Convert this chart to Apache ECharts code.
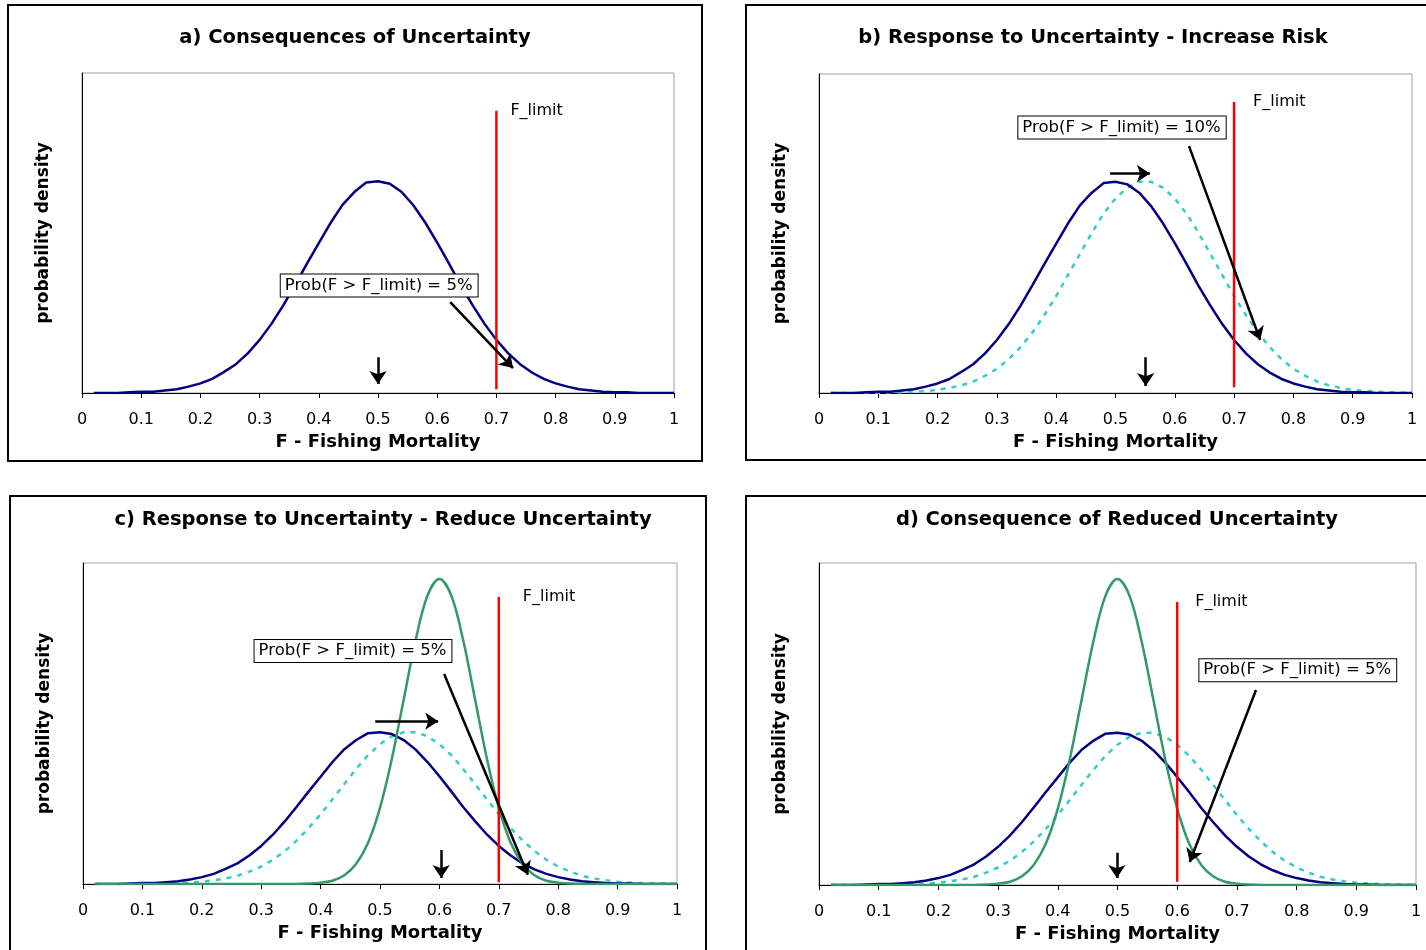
<!DOCTYPE html>
<html>
<head>
<meta charset="utf-8">
<script src="https://cdn.jsdelivr.net/npm/echarts@6/dist/echarts.min.js"></script>
<style>
  html, body { margin: 0; padding: 0; background: #fff; }
  #chart { width: 1426px; height: 950px; }
</style>
</head>
<body>
<div id="chart"></div>
<script>
// F values the densities are read at
const fValues = [0.02, 0.04, 0.06, 0.08, 0.10, 0.12, 0.14, 0.16, 0.18, 0.20,
  0.22, 0.24, 0.26, 0.28, 0.30, 0.32, 0.34, 0.36, 0.38, 0.40,
  0.42, 0.44, 0.46, 0.48, 0.50, 0.52, 0.54, 0.56, 0.58, 0.60,
  0.62, 0.64, 0.66, 0.68, 0.70, 0.72, 0.74, 0.76, 0.78, 0.80,
  0.82, 0.84, 0.86, 0.88, 0.90, 0.92, 0.94, 0.96, 0.98, 1.00]

// current uncertainty (solid navy)
const blueDensity = [0.00, 0.00, 0.00, 0.01, 0.02, 0.02, 0.04, 0.06, 0.10, 0.15,
  0.22, 0.33, 0.45, 0.62, 0.83, 1.08, 1.37, 1.69, 2.02, 2.34,
  2.66, 2.94, 3.14, 3.29, 3.31, 3.27, 3.14, 2.93, 2.66, 2.35,
  2.02, 1.68, 1.37, 1.08, 0.83, 0.62, 0.45, 0.32, 0.22, 0.15,
  0.10, 0.06, 0.04, 0.02, 0.01, 0.01, 0.00, 0.00, 0.00, 0.00]

// shifted distribution (dashed turquoise)
const cyanDensity = [0.00, 0.00, 0.00, 0.00, 0.00, 0.01, 0.01, 0.02, 0.03, 0.05,
  0.08, 0.12, 0.18, 0.27, 0.38, 0.53, 0.72, 0.95, 1.22, 1.52,
  1.85, 2.18, 2.51, 2.81, 3.05, 3.22, 3.31, 3.31, 3.22, 3.05,
  2.81, 2.51, 2.18, 1.85, 1.52, 1.22, 0.95, 0.72, 0.53, 0.38,
  0.27, 0.18, 0.12, 0.08, 0.05, 0.03, 0.02, 0.01, 0.01, 0.00]

// reduced uncertainty, panel c (green)
const greenDensityC = [0.00, 0.00, 0.00, 0.00, 0.00, 0.00, 0.00, 0.00, 0.00, 0.00,
  0.00, 0.00, 0.00, 0.00, 0.00, 0.00, 0.00, 0.00, 0.01, 0.03,
  0.07, 0.19, 0.44, 0.90, 1.66, 2.73, 4.03, 5.32, 6.29, 6.65,
  6.29, 5.32, 4.03, 2.73, 1.66, 0.90, 0.44, 0.19, 0.07, 0.03,
  0.01, 0.00, 0.00, 0.00, 0.00, 0.00, 0.00, 0.00, 0.00, 0.00]

// reduced uncertainty, panel d (green)
const greenDensityD = [0.00, 0.00, 0.00, 0.00, 0.00, 0.00, 0.00, 0.00, 0.00, 0.00,
  0.00, 0.00, 0.00, 0.01, 0.03, 0.07, 0.19, 0.44, 0.90, 1.66,
  2.73, 4.03, 5.32, 6.29, 6.65, 6.29, 5.32, 4.03, 2.73, 1.66,
  0.90, 0.44, 0.19, 0.07, 0.03, 0.01, 0.00, 0.00, 0.00, 0.00,
  0.00, 0.00, 0.00, 0.00, 0.00, 0.00, 0.00, 0.00, 0.00, 0.00]

const panelTitles = ['a) Consequences of Uncertainty', 'b) Response to Uncertainty - Increase Risk',
  'c) Response to Uncertainty - Reduce Uncertainty', 'd) Consequence of Reduced Uncertainty']
const probTexts = ['Prob(F > F_limit) = 5%', 'Prob(F > F_limit) = 10%',
  'Prob(F > F_limit) = 5%', 'Prob(F > F_limit) = 5%']
const fLimits = [0.7, 0.7, 0.7, 0.6]
const yMax = [5, 5, 7, 7]
// red limit line extent [low, high] in density units
const limitSpan = [[0.06, 4.41], [0.09, 4.56], [0.04, 6.26], [0.07, 6.15]]
// annotation box anchors [F, density]
const probAnchors = [[0.502, 1.68], [0.511, 4.16], [0.4545, 5.08], [0.802, 4.67]]
// arrows [[F1, d1], [F2, d2]]
const arrowsA = [[[0.622, 1.42], [0.728, 0.39]], [[0.5, 0.56], [0.5, 0.14]]]
const arrowsB = [[[0.624, 3.87], [0.744, 0.83]], [[0.491, 3.44], [0.558, 3.44]], [[0.551, 0.56], [0.551, 0.11]]]
const arrowsC = [[[0.608, 4.58], [0.749, 0.2]], [[0.492, 3.55], [0.598, 3.55]], [[0.603, 0.74], [0.603, 0.13]]]
const arrowsD = [[[0.732, 4.24], [0.621, 0.5]], [[0.499, 0.7], [0.499, 0.15]]]

const FONT = 'DejaVu Sans'
const pairs = (ys) => fValues.map((x, i) => [x, ys[i]])

const grids = [
  { left: 82, top: 73, width: 592, height: 320 },
  { left: 819, top: 74, width: 593, height: 319 },
  { left: 83, top: 563, width: 594, height: 321 },
  { left: 819, top: 563, width: 597, height: 322 }
]
const panelCurves = [
  [['blue', blueDensity]],
  [['cyan', cyanDensity], ['blue', blueDensity]],
  [['cyan', cyanDensity], ['blue', blueDensity], ['green', greenDensityC]],
  [['cyan', cyanDensity], ['blue', blueDensity], ['green', greenDensityD]]
]
const panelArrows = [arrowsA, arrowsB, arrowsC, arrowsD]
const limitLabelGap = [14, 19, 24, 18]

const curveStyle = {
  blue: { color: '#000080', width: 2.5, type: 'solid' },
  cyan: { color: '#33cccc', width: 2.5, type: [5, 6] },
  green: { color: '#339966', width: 2.5, type: 'solid' }
}

const myChart = echarts.init(document.getElementById('chart'))

const series = []
grids.forEach((g, k) => {
  panelCurves[k].forEach(([name, ys]) => {
    series.push({
      type: 'line', xAxisIndex: k, yAxisIndex: k, data: pairs(ys),
      symbol: 'none', smooth: name == 'green' ? 0.35 : false, lineStyle: curveStyle[name], z: 2
    })
  })
  series.push({
    type: 'line', xAxisIndex: k, yAxisIndex: k,
    data: [[fLimits[k], limitSpan[k][0]], [fLimits[k], limitSpan[k][1]]],
    symbol: 'none', lineStyle: { color: '#ff0000', width: 2.5 }, z: 3
  })
  series.push({
    type: 'scatter', xAxisIndex: k, yAxisIndex: k,
    data: [[fLimits[k], limitSpan[k][1]]], symbolSize: 0, itemStyle: { color: '#000', opacity: 1 },
    label: { show: true, formatter: 'F_limit', position: 'right', distance: limitLabelGap[k],
      fontFamily: FONT, fontSize: 16, color: '#000', opacity: 1 }, z: 4
  })
  series.push({
    type: 'lines', coordinateSystem: 'cartesian2d', xAxisIndex: k, yAxisIndex: k,
    data: panelArrows[k].map(c => ({ coords: c })),
    symbol: ['none', 'arrow'], symbolSize: 13,
    lineStyle: { color: '#000', width: 2.5, opacity: 1, curveness: 0 }, z: 5
  })
  series.push({
    type: 'scatter', xAxisIndex: k, yAxisIndex: k,
    data: [probAnchors[k]], symbolSize: 0, itemStyle: { color: '#000', opacity: 1 },
    label: { show: true, formatter: probTexts[k], position: 'inside',
      fontFamily: FONT, fontSize: 16.5, color: '#000', opacity: 1, backgroundColor: '#fff',
      borderColor: '#000', borderWidth: 1, padding: [3, 5, 2, 4] }, z: 6
  })
})

const titleCenters = [[355, 38], [1093, 38], [383, 520], [1117, 520]]

myChart.setOption({
  animation: false,
  backgroundColor: '#fff',
  grid: grids.map(g => Object.assign({ show: true, borderColor: '#a0a0a0', borderWidth: 1, backgroundColor: '#fff' }, g)),
  xAxis: grids.map((g, k) => ({
    type: 'value', gridIndex: k, min: 0, max: 1, interval: 0.1,
    name: 'F - Fishing Mortality', nameLocation: 'middle', nameGap: 40,
    nameTextStyle: { fontFamily: FONT, fontWeight: 'bold', fontSize: 18, color: '#000' },
    axisLine: { show: true, lineStyle: { color: '#000', width: 1 } },
    axisTick: { show: true, length: 5, lineStyle: { color: '#000' } },
    axisLabel: { fontFamily: FONT, fontSize: 16, color: '#000', margin: 19 },
    splitLine: { show: false }
  })),
  yAxis: grids.map((g, k) => ({
    type: 'value', gridIndex: k, min: 0, max: yMax[k],
    name: 'probability density', nameLocation: 'middle', nameGap: 30, nameRotate: 90,
    nameTextStyle: { fontFamily: FONT, fontWeight: 'bold', fontSize: 17, color: '#000' },
    axisLine: { show: true, onZero: false, lineStyle: { color: '#000', width: 1 } },
    axisTick: { show: false },
    axisLabel: { show: false },
    splitLine: { show: false }
  })),
  graphic: [
    { type: 'rect', shape: { x: 8, y: 5, width: 694, height: 456 }, style: { fill: 'none', stroke: '#000', lineWidth: 2 }, z: 0 },
    { type: 'rect', shape: { x: 746, y: 5, width: 700, height: 455 }, style: { fill: 'none', stroke: '#000', lineWidth: 2 }, z: 0 },
    { type: 'rect', shape: { x: 10, y: 496, width: 696, height: 470 }, style: { fill: 'none', stroke: '#000', lineWidth: 2 }, z: 0 },
    { type: 'rect', shape: { x: 746, y: 496, width: 700, height: 470 }, style: { fill: 'none', stroke: '#000', lineWidth: 2 }, z: 0 },
    ...panelTitles.map((t, k) => ({
      type: 'text', x: titleCenters[k][0], y: titleCenters[k][1], z: 10,
      style: { text: t, fontFamily: FONT, fontWeight: 'bold', fontSize: 19.5, fill: '#000',
        textAlign: 'center', textVerticalAlign: 'middle' }
    }))
  ],
  series: series
})

window.addEventListener('resize', () => { myChart.resize() })
</script>
</body>
</html>
